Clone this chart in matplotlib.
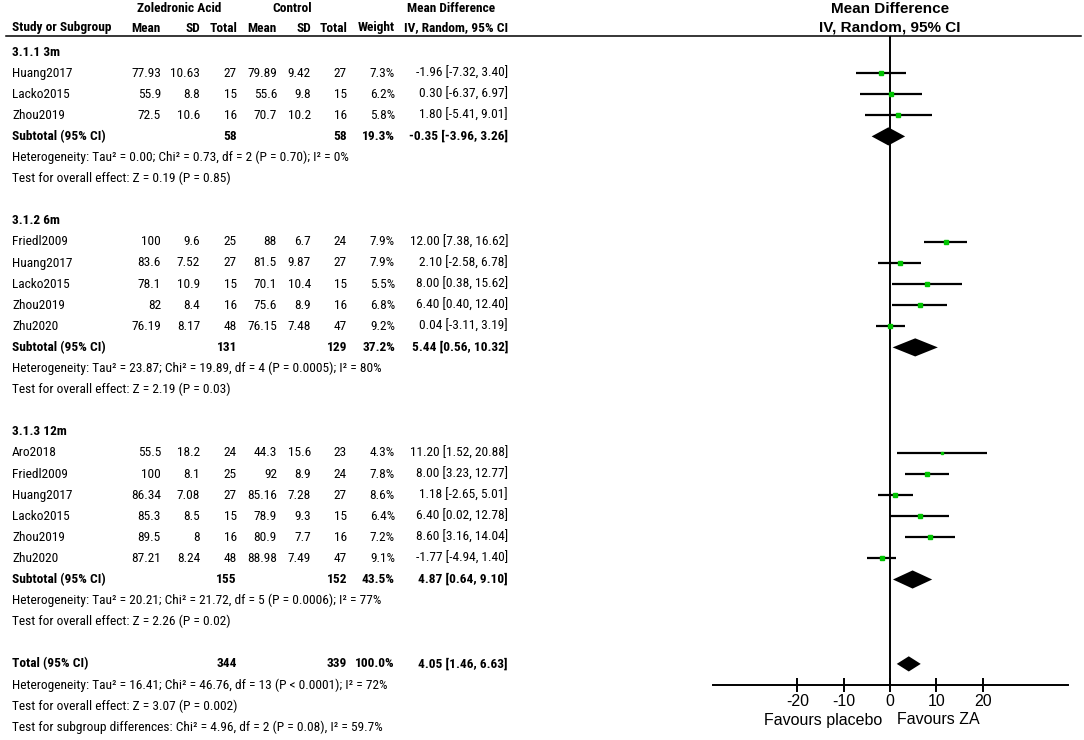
import matplotlib
matplotlib.use("Agg")
import matplotlib.pyplot as plt
from matplotlib import font_manager

# study level data, grouped by follow-up time
groups = ["3.1.1 3m", "3.1.2 6m", "3.1.3 12m"]
study_group = [0, 0, 0, 1, 1, 1, 1, 1, 2, 2, 2, 2, 2, 2]
studies = ["Huang2017", "Lacko2015", "Zhou2019",
           "Friedl2009", "Huang2017", "Lacko2015", "Zhou2019", "Zhu2020",
           "Aro2018", "Friedl2009", "Huang2017", "Lacko2015", "Zhou2019", "Zhu2020"]
za_mean = [77.93, 55.9, 72.5, 100, 83.6, 78.1, 82, 76.19, 55.5, 100, 86.34, 85.3, 89.5, 87.21]
za_sd = [10.63, 8.8, 10.6, 9.6, 7.52, 10.9, 8.4, 8.17, 18.2, 8.1, 7.08, 8.5, 8, 8.24]
za_n = [27, 15, 16, 25, 27, 15, 16, 48, 24, 25, 27, 15, 16, 48]
ct_mean = [79.89, 55.6, 70.7, 88, 81.5, 70.1, 75.6, 76.15, 44.3, 92, 85.16, 78.9, 80.9, 88.98]
ct_sd = [9.42, 9.8, 10.2, 6.7, 9.87, 10.4, 8.9, 7.48, 15.6, 8.9, 7.28, 9.3, 7.7, 7.49]
ct_n = [27, 15, 16, 24, 27, 15, 16, 47, 23, 24, 27, 15, 16, 47]
weight = [7.3, 6.2, 5.8, 7.9, 7.9, 5.5, 6.8, 9.2, 4.3, 7.8, 8.6, 6.4, 7.2, 9.1]
md = [-1.96, 0.30, 1.80, 12.00, 2.10, 8.00, 6.40, 0.04, 11.20, 8.00, 1.18, 6.40, 8.60, -1.77]
ci_lo = [-7.32, -6.37, -5.41, 7.38, -2.58, 0.38, 0.40, -3.11, 1.52, 3.23, -2.65, 0.02, 3.16, -4.94]
ci_hi = [3.40, 6.97, 9.01, 16.62, 6.78, 15.62, 12.40, 3.19, 20.88, 12.77, 5.01, 12.78, 14.04, 1.40]

# subgroup summaries
sub_za_n = [58, 131, 155]
sub_ct_n = [58, 129, 152]
sub_weight = [19.3, 37.2, 43.5]
sub_md = [-0.35, 5.44, 4.87]
sub_lo = [-3.96, 0.56, 0.64]
sub_hi = [3.26, 10.32, 9.10]
sub_het = ["Heterogeneity: Tau² = 0.00; Chi² = 0.73, df = 2 (P = 0.70); I² = 0%",
           "Heterogeneity: Tau² = 23.87; Chi² = 19.89, df = 4 (P = 0.0005); I² = 80%",
           "Heterogeneity: Tau² = 20.21; Chi² = 21.72, df = 5 (P = 0.0006); I² = 77%"]
sub_test = ["Test for overall effect: Z = 0.19 (P = 0.85)",
            "Test for overall effect: Z = 2.19 (P = 0.03)",
            "Test for overall effect: Z = 2.26 (P = 0.02)"]

# overall
tot_za_n, tot_ct_n, tot_weight = 344, 339, 100.0
tot_md, tot_lo, tot_hi = 4.05, 1.46, 6.63
tot_notes = ["Heterogeneity: Tau² = 16.41; Chi² = 46.76, df = 13 (P < 0.0001); I² = 72%",
             "Test for overall effect: Z = 3.07 (P = 0.002)",
             "Test for subgroup differences: Chi² = 4.96, df = 2 (P = 0.08), I² = 59.7%"]

xticks = [-20, -10, 0, 10, 20]

# fonts: the table in the original is set in a narrow face, use one if installed
narrow = None
for pref in ["Liberation Sans Narrow", "Arial Narrow", "Roboto Condensed", "Open Sans Condensed"]:
    hits = [f for f in font_manager.fontManager.ttflist if f.name == pref]
    if hits:
        narrow = (pref, "normal")
        break
if narrow is None:
    for f in font_manager.fontManager.ttflist:
        if f.stretch in ("condensed", "semi-condensed", "extra-condensed") or "Condensed" in f.name:
            narrow = (f.name, f.stretch)
            break
if narrow is not None:
    TFONT, TSTRETCH, TSIZE = [narrow[0], "DejaVu Sans"], narrow[1], 9.6
else:
    TFONT, TSTRETCH, TSIZE = ["Liberation Sans", "DejaVu Sans"], "normal", 8.6
PFONT = ["Liberation Sans", "DejaVu Sans"]
GREEN = "#00c400"

# layout (pixels)
W, H = 1084, 740
ROW0, DY = 52, 21.1
LINE_Y = 36
cols_x = [161, 200, 237, 277, 311, 347, 395, 508]
PLOT_L, PLOT_R, ZERO_X, PX_PER_UNIT = 713, 1068, 890, 4.635


def row_y(r):
    return ROW0 + DY * r


fig = plt.figure(figsize=(W / 100, H / 100), dpi=100)
tab = fig.add_axes([0, 0, 1, 1])
tab.set_xlim(0, W)
tab.set_ylim(H, 0)
tab.axis("off")


def txt(x, y, s, ha="left", bold=False, **kw):
    tab.text(x, y, s, ha=ha, va="center", family=TFONT, fontstretch=TSTRETCH, fontsize=TSIZE,
             fontweight="bold" if bold else "normal", **kw)


# header
txt(179, 9, "Zoledronic Acid", ha="center", bold=True)
txt(292, 9, "Control", ha="center", bold=True)
txt(451, 9, "Mean Difference", ha="center", bold=True)
txt(12, 28, "Study or Subgroup", bold=True)
for x, s in zip(cols_x, ["Mean", "SD", "Total", "Mean", "SD", "Total", "Weight", "IV, Random, 95% CI"]):
    txt(x, 28, s, ha="right", bold=True)
tab.text(ZERO_X, 9, "Mean Difference", ha="center", va="center", family=PFONT, fontsize=11, fontweight="bold")
tab.text(ZERO_X, 28, "IV, Random, 95% CI", ha="center", va="center", family=PFONT, fontsize=11, fontweight="bold")
tab.plot([6, 1081], [LINE_Y, LINE_Y], color="black", lw=1.1)

# forest panel shares the row scale with the table
fp = fig.add_axes([PLOT_L / W, 0, (PLOT_R - PLOT_L) / W, 1])
fp.set_xlim((PLOT_L - ZERO_X) / PX_PER_UNIT, (PLOT_R - ZERO_X) / PX_PER_UNIT)
fp.set_ylim((H - ROW0) / DY, -ROW0 / DY)
fp.patch.set_visible(False)
for s in ["top", "left", "right"]:
    fp.spines[s].set_visible(False)
AXIS_ROW = 30
fp.spines["bottom"].set_position(("data", AXIS_ROW))
fp.spines["bottom"].set_linewidth(1.4)
fp.set_yticks([])
fp.set_xticks(xticks)
fp.set_xticklabels([str(t) for t in xticks], family=PFONT, fontsize=11.5)
fp.tick_params(axis="x", direction="inout", length=10, width=1.4, pad=1.5)
fp.vlines(0, (LINE_Y - ROW0) / DY, AXIS_ROW, color="black", lw=1.4)

r = 0
for g, name in enumerate(groups):
    txt(12, row_y(r), name, bold=True)
    r += 1
    for i in [k for k, sg in enumerate(study_group) if sg == g]:
        y = row_y(r)
        txt(12, y, studies[i])
        vals = [f"{za_mean[i]:g}", f"{za_sd[i]:g}", str(za_n[i]),
                f"{ct_mean[i]:g}", f"{ct_sd[i]:g}", str(ct_n[i]),
                f"{weight[i]:.1f}%", f"{md[i]:.2f} [{ci_lo[i]:.2f}, {ci_hi[i]:.2f}]"]
        for x, s in zip(cols_x, vals):
            txt(x, y, s, ha="right")
        fp.hlines(r, ci_lo[i], ci_hi[i], color="black", lw=1.6)
        ms = (1.0 + 0.42 * weight[i]) * 0.72
        fp.plot(md[i], r, "s", color=GREEN, mec=GREEN, ms=ms)
        r += 1
    y = row_y(r)
    txt(12, y, "Subtotal (95% CI)", bold=True)
    txt(cols_x[2], y, str(sub_za_n[g]), ha="right", bold=True)
    txt(cols_x[5], y, str(sub_ct_n[g]), ha="right", bold=True)
    txt(cols_x[6], y, f"{sub_weight[g]:.1f}%", ha="right", bold=True)
    txt(cols_x[7], y, f"{sub_md[g]:.2f} [{sub_lo[g]:.2f}, {sub_hi[g]:.2f}]", ha="right", bold=True)
    h = 0.43
    fp.fill([sub_lo[g], sub_md[g], sub_hi[g], sub_md[g]], [r, r - h, r, r + h], color="black", lw=0)
    r += 1
    txt(12, row_y(r), sub_het[g])
    r += 1
    txt(12, row_y(r), sub_test[g])
    r += 2

y = row_y(r)
txt(12, y, "Total (95% CI)", bold=True)
txt(cols_x[2], y, str(tot_za_n), ha="right", bold=True)
txt(cols_x[5], y, str(tot_ct_n), ha="right", bold=True)
txt(cols_x[6], y, f"{tot_weight:.1f}%", ha="right", bold=True)
txt(cols_x[7], y, f"{tot_md:.2f} [{tot_lo:.2f}, {tot_hi:.2f}]", ha="right", bold=True)
h = 0.36
fp.fill([tot_lo, tot_md, tot_hi, tot_md], [r, r - h, r, r + h], color="black", lw=0)
for note in tot_notes:
    r += 1
    txt(12, row_y(r), note)

tab.text(ZERO_X - 8, 720, "Favours placebo", ha="right", va="center", family=PFONT, fontsize=11.5)
tab.text(ZERO_X + 7, 720, "Favours ZA", ha="left", va="center", family=PFONT, fontsize=11.5)

fig.savefig("out.png", dpi=100)
